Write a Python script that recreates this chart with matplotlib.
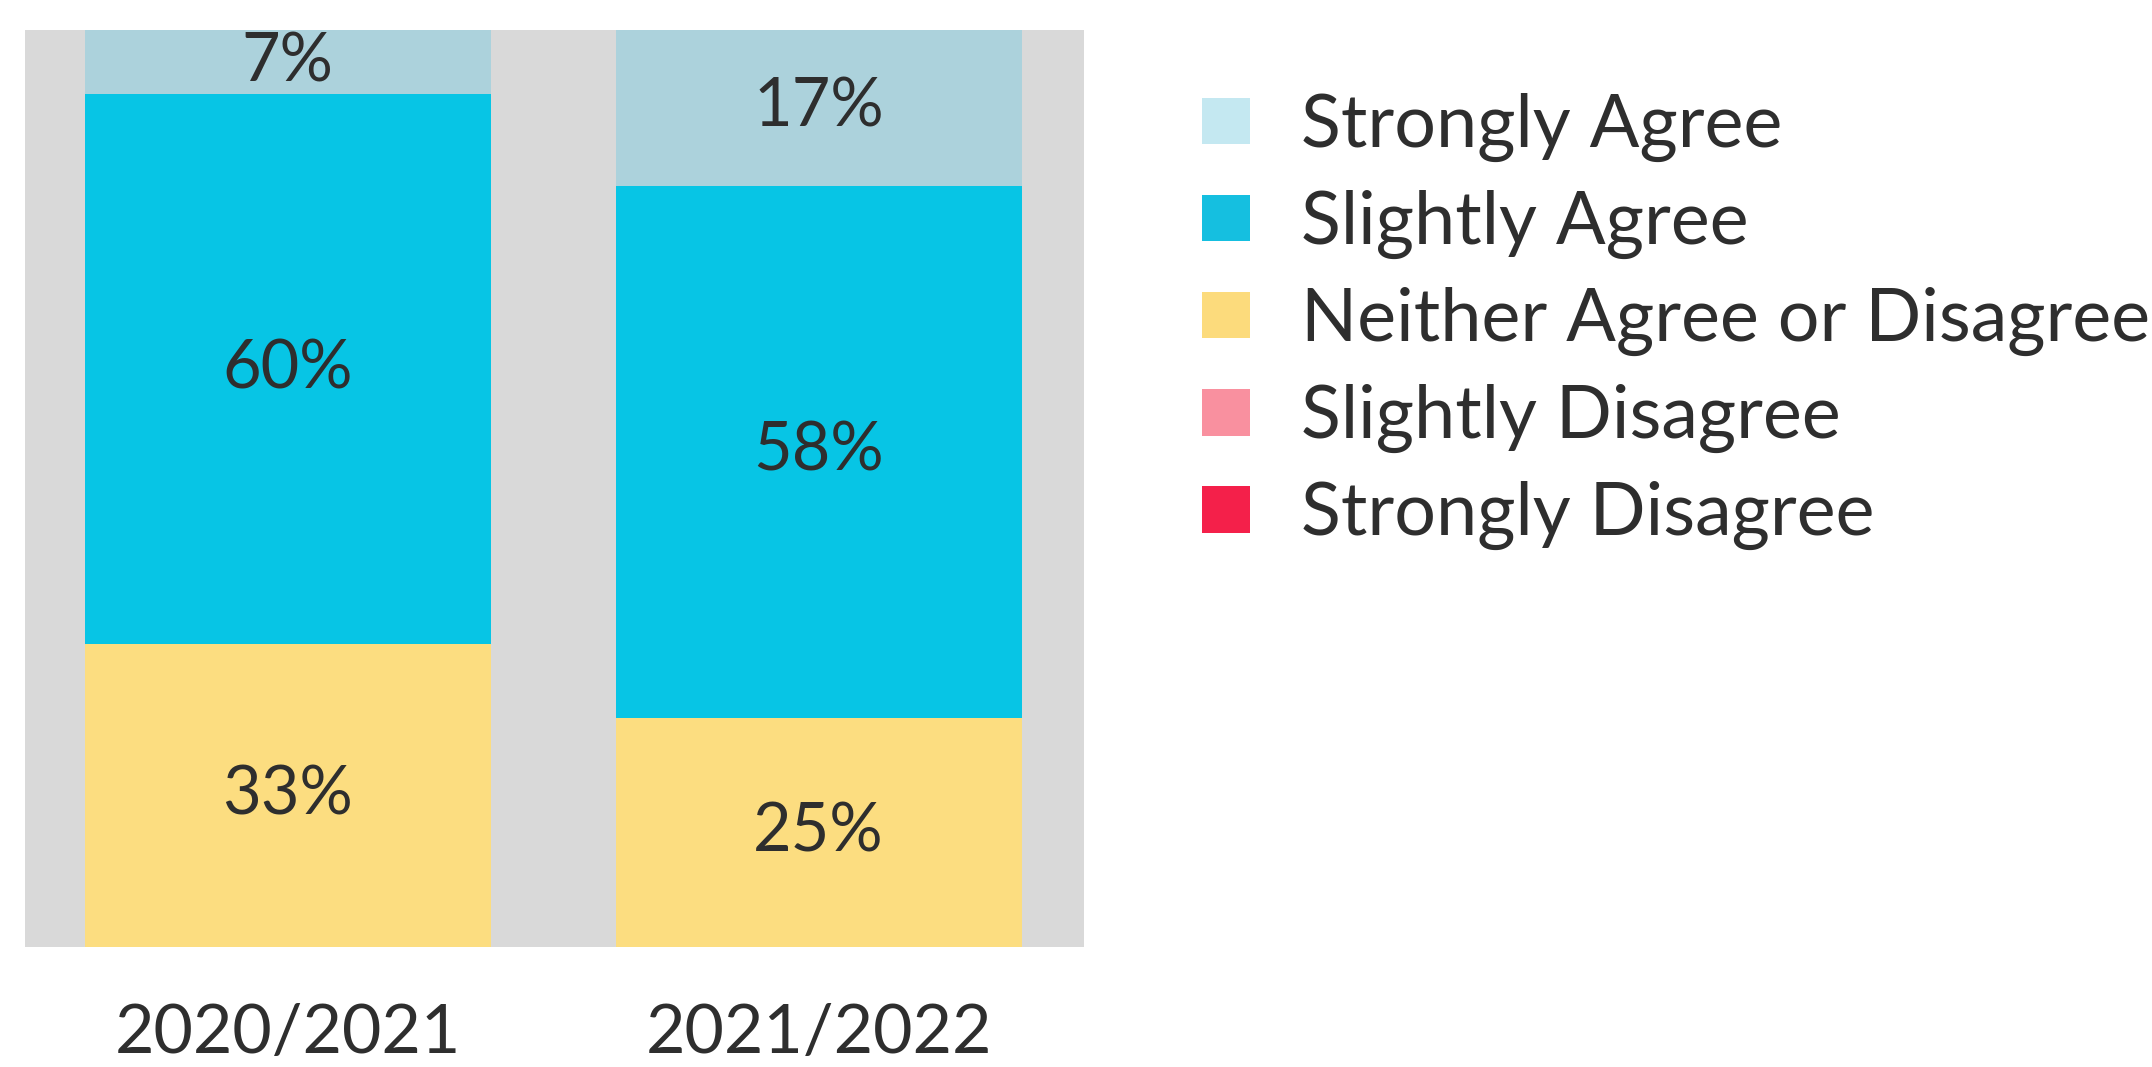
import matplotlib.pyplot as plt
from matplotlib.patches import Patch
import numpy as np

plt.rcParams['font.family'] = ['Lato', 'DejaVu Sans']

years = ["2020/2021", "2021/2022"]
responses = ["Strongly Agree", "Slightly Agree", "Neither Agree or Disagree",
             "Slightly Disagree", "Strongly Disagree"]
# share of respondents (%), per response, per year
strongly_agree = [7, 17]
slightly_agree = [60, 58]
neither = [33, 25]
slightly_disagree = [0, 0]
strongly_disagree = [0, 0]

bar_colors = ["#acd2dc", "#07c5e5", "#fcdd80", "#f9909f", "#f4204a"]
legend_colors = ["#c4e8f1", "#15bfe0", "#fcdb7c", "#f9909f", "#f4204a"]
text_color = "#2e2e2e"

fig = plt.figure(figsize=(21.52, 10.67), dpi=100)
ax = fig.add_axes([0.0116, 0.1125, 0.4921, 0.8594])
ax.set_facecolor("#d9d9d9")

x = np.arange(len(years))
width = 0.765
stacks = [neither, slightly_agree, strongly_agree, slightly_disagree, strongly_disagree]
stack_colors = [bar_colors[2], bar_colors[1], bar_colors[0], bar_colors[3], bar_colors[4]]
bottom = np.zeros(len(years))
for vals, col in zip(stacks, stack_colors):
    vals = np.array(vals, dtype=float)
    ax.bar(x, vals, width, bottom=bottom, color=col, linewidth=0)
    for xi, b, v in zip(x, bottom, vals):
        if v > 0:
            ax.text(xi, b + v / 2, f"{int(v)}%", ha="center", va="center",
                    fontsize=48, color=text_color)
    bottom += vals

ax.set_xlim(-0.495, 1.5)
ax.set_ylim(0, 100)
ax.set_yticks([])
ax.set_xticks(x)
ax.set_xticklabels(years, fontsize=49, color=text_color)
ax.tick_params(axis="x", length=0, pad=40)
for s in ax.spines.values():
    s.set_visible(False)

handles = [Patch(facecolor=c, edgecolor="none") for c in legend_colors]
fig.legend(handles, responses, loc="upper left", bbox_to_anchor=(0.5585, 0.913),
           frameon=False, fontsize=53, handlelength=0.65, handleheight=0.6,
           handletextpad=0.7, labelspacing=0.38, borderpad=0, borderaxespad=0,
           labelcolor=text_color)

fig.savefig("out.png", dpi=100)
